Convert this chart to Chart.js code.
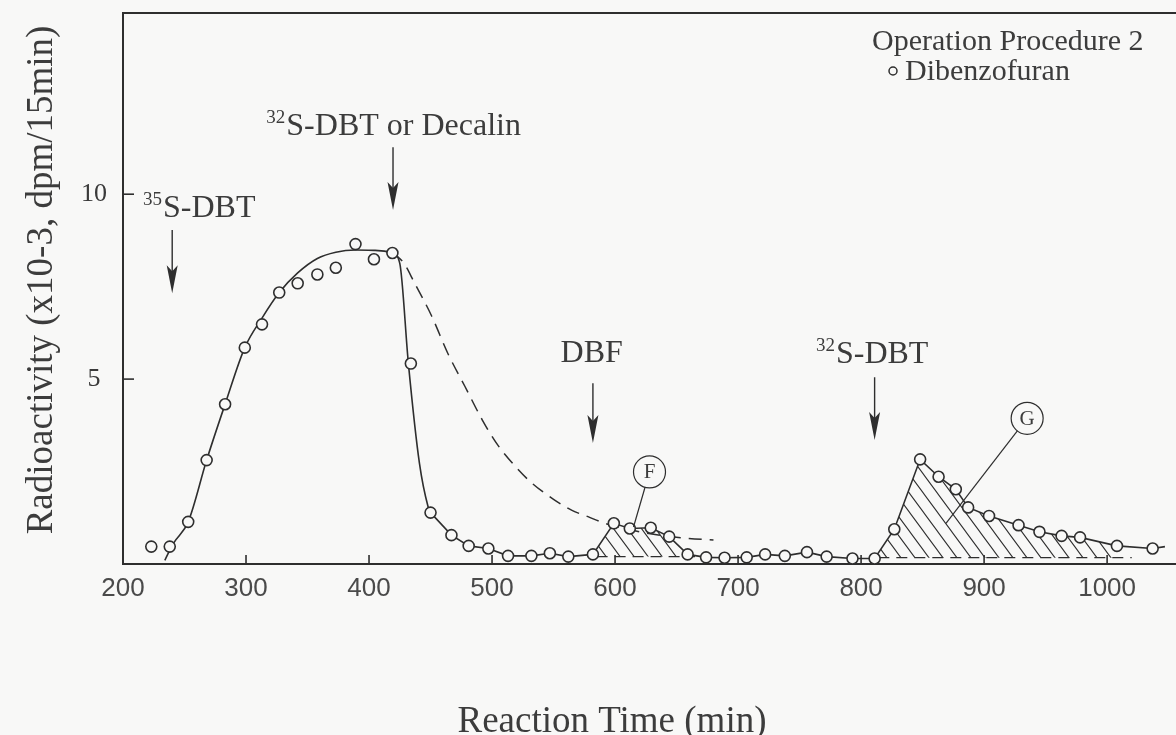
<!DOCTYPE html>
<html>
<head>
<meta charset="utf-8">
<script src="https://cdn.jsdelivr.net/npm/chart.js@4.4.1/dist/chart.umd.min.js"></script>
<style>
  html, body { margin: 0; padding: 0; background: #f8f8f7; }
  #wrap { width: 1176px; height: 735px; }
</style>
</head>
<body>
<div id="wrap"><canvas id="chart" width="1176" height="735"></canvas></div>
<script>
// measured points, Dibenzofuran (operation procedure 2)
const timeMin = [223, 238, 253, 268, 283, 299, 313, 327, 342, 358, 373, 389, 404, 419, 434, 450,
  467, 481, 497, 513, 532, 547, 562, 582, 599, 612, 629, 644, 659, 674, 689, 707, 722, 738,
  756, 772, 793, 811, 827, 848, 863, 877, 887, 904, 928, 945, 963, 978, 1008, 1037];
const activity = [0.47, 0.47, 1.14, 2.81, 4.32, 5.85, 6.48, 7.34, 7.59, 7.83, 8.01, 8.65, 8.24, 8.41, 5.42, 1.39,
  0.78, 0.49, 0.42, 0.22, 0.22, 0.29, 0.20, 0.26, 1.10, 0.96, 0.98, 0.74, 0.26, 0.18, 0.17, 0.18, 0.26, 0.22,
  0.32, 0.20, 0.15, 0.15, 0.94, 2.83, 2.36, 2.02, 1.53, 1.30, 1.05, 0.87, 0.76, 0.72, 0.49, 0.42];

// smooth solid curve over the first peak
const fitTime = [234, 241, 253, 268, 283, 299, 313, 327, 342, 358, 373, 389, 405, 419, 425, 432, 441, 448, 450];
const fitValue = [0.1, 0.56, 1.14, 2.81, 4.32, 5.85, 6.65, 7.34, 7.87, 8.26, 8.43, 8.49, 8.48, 8.42, 8.13, 5.42, 2.72, 1.55, 1.39];

// the solid trace runs on a little past the last point
const tailTime = [1047];
const tailValue = [0.47];

// dashed curve
const dashTime = [419, 428, 437, 451, 464, 478, 492, 505, 520, 532, 550, 565, 578, 590, 600, 620, 640, 660, 680];
const dashValue = [8.42, 8.15, 7.6, 6.7, 5.7, 4.8, 3.9, 3.2, 2.6, 2.2, 1.75, 1.45, 1.28, 1.12, 1.02, 0.87, 0.76, 0.69, 0.65];

// hatched areas F and G: time range and baseline
const hatchFrom = [582, 811];
const hatchTo = [659, 1008];
const hatchBase = [0.2, 0.17];
const hatchBaseTo = [665, 1020];

// arrows and their labels
const arrowTime = [240, 419.5, 582, 811];
const arrowTop = [9.03, 11.27, 4.89, 5.05];
const arrowTip = [7.32, 9.57, 3.27, 3.35];
const labelSup = ['35', '32', '', '32'];
const labelText = ['S-DBT', 'S-DBT or Decalin', 'DBF', 'S-DBT'];
const labelTime = [262, 420, 581, 809];
const labelValue = [9.38, 11.6, 5.46, 5.43];

// circled letters with leader lines
const tagText = ['F', 'G'];
const tagTime = [628, 935];
const tagValue = [2.49, 3.94];
const leaderTime = [615, 869];
const leaderValue = [1.0, 1.1];

const xTickValues = [300, 400, 500, 600, 700, 800, 900, 1000];
const yTickValues = [5, 10];

const ink = '#2e2e2e';
const textInk = '#3c3c3c';
const paper = '#f8f8f7';
const serif = '"Liberation Serif", "Times New Roman", serif';

const pts = (xs, ys) => xs.map((t, i) => ({ x: t, y: ys[i] }));
const allPoints = pts(timeMin, activity);
const tracePoints = allPoints.filter(p => p.x >= 450).concat(pts(tailTime, tailValue));

function hatchPattern() {
  const c = document.createElement('canvas');
  c.width = 14; c.height = 19;
  const g = c.getContext('2d');
  g.strokeStyle = ink;
  g.lineWidth = 1.1;
  g.beginPath();
  g.moveTo(0, 0); g.lineTo(14, 19);
  g.moveTo(-2, 16.3); g.lineTo(2, 21.7);
  g.moveTo(12, -2.7); g.lineTo(16, 2.7);
  g.stroke();
  return g.createPattern(c, 'repeat');
}
const hatch = hatchPattern();

const datasets = [
  {
    label: 'Dibenzofuran', data: allPoints, order: 0, showLine: false,
    pointRadius: 5.5, pointBorderWidth: 1.6, pointBorderColor: ink, pointBackgroundColor: paper
  },
  {
    label: 'fit', data: pts(fitTime, fitValue), order: 1, borderColor: ink, borderWidth: 1.6,
    pointRadius: 0, cubicInterpolationMode: 'monotone'
  },
  {
    label: 'trace', data: tracePoints, order: 1, borderColor: ink, borderWidth: 1.6,
    pointRadius: 0, tension: 0
  },
  {
    label: 'dashed', data: pts(dashTime, dashValue), order: 1, borderColor: ink, borderWidth: 1.5,
    borderDash: [13, 8], pointRadius: 0, cubicInterpolationMode: 'monotone'
  }
];

hatchFrom.forEach((from, i) => {
  datasets.push({
    label: 'hatch' + i, data: allPoints.filter(p => p.x >= from && p.x <= hatchTo[i]),
    order: 2, borderWidth: 0, pointRadius: 0, backgroundColor: hatch,
    fill: { value: hatchBase[i] }, tension: 0
  });
  datasets.push({
    label: 'base' + i, data: [{ x: from + 3, y: hatchBase[i] }, { x: hatchBaseTo[i], y: hatchBase[i] }],
    order: 1, borderColor: ink, borderWidth: 1.2, borderDash: [11, 7], pointRadius: 0
  });
});

function supLabel(ctx, sup, text, cx, by, size) {
  ctx.font = size + 'px ' + serif;
  const mw = ctx.measureText(text).width;
  ctx.font = Math.round(size * 0.6) + 'px ' + serif;
  const sw = sup ? ctx.measureText(sup).width + 1 : 0;
  const x0 = cx - (mw + sw) / 2;
  if (sup) ctx.fillText(sup, x0, by - size * 0.38);
  ctx.font = size + 'px ' + serif;
  ctx.fillText(text, x0 + sw, by);
}

const overlay = {
  id: 'overlay',
  afterDraw(chart) {
    const { ctx, chartArea: a, scales: { x, y } } = chart;
    ctx.save();
    ctx.strokeStyle = ink;
    ctx.fillStyle = textInk;
    ctx.textBaseline = 'alphabetic';

    // top frame line
    ctx.lineWidth = 2;
    ctx.beginPath();
    ctx.moveTo(a.left, a.top);
    ctx.lineTo(a.right, a.top);
    ctx.stroke();

    // ticks pointing inward
    ctx.lineWidth = 1.6;
    xTickValues.forEach(v => {
      const px = x.getPixelForValue(v);
      ctx.beginPath(); ctx.moveTo(px, a.bottom); ctx.lineTo(px, a.bottom - 9); ctx.stroke();
    });
    yTickValues.forEach(v => {
      const py = y.getPixelForValue(v);
      ctx.beginPath(); ctx.moveTo(a.left, py); ctx.lineTo(a.left + 11, py); ctx.stroke();
    });

    // axis titles
    ctx.font = '37px ' + serif;
    ctx.textAlign = 'center';
    ctx.fillText('Reaction Time (min)', a.left + 489, a.bottom + 168);
    ctx.save();
    ctx.translate(a.left - 71, a.top + 267);
    ctx.rotate(-Math.PI / 2);
    ctx.fillText('Radioactivity (x10-3, dpm/15min)', 0, 0);
    ctx.restore();
    ctx.textAlign = 'left';

    // arrows
    arrowTime.forEach((t, i) => {
      const px = x.getPixelForValue(t);
      const y0 = y.getPixelForValue(arrowTop[i]);
      const y1 = y.getPixelForValue(arrowTip[i]);
      ctx.fillStyle = ink;
      ctx.lineWidth = 1.4;
      ctx.beginPath(); ctx.moveTo(px, y0); ctx.lineTo(px, y1 - 20); ctx.stroke();
      ctx.beginPath();
      ctx.moveTo(px, y1); ctx.lineTo(px - 5.5, y1 - 28); ctx.lineTo(px, y1 - 22); ctx.lineTo(px + 5.5, y1 - 28);
      ctx.closePath(); ctx.fill();
      ctx.fillStyle = textInk;
      supLabel(ctx, labelSup[i], labelText[i], x.getPixelForValue(labelTime[i]), y.getPixelForValue(labelValue[i]), 32);
    });

    // circled tags
    tagText.forEach((s, i) => {
      const cx = x.getPixelForValue(tagTime[i]);
      const cy = y.getPixelForValue(tagValue[i]);
      const lx = x.getPixelForValue(leaderTime[i]);
      const ly = y.getPixelForValue(leaderValue[i]);
      const r = 16;
      const d = Math.hypot(cx - lx, cy - ly);
      ctx.lineWidth = 1.2;
      ctx.beginPath(); ctx.arc(cx, cy, r, 0, Math.PI * 2); ctx.stroke();
      ctx.beginPath();
      ctx.moveTo(cx + (lx - cx) * r / d, cy + (ly - cy) * r / d);
      ctx.lineTo(lx, ly);
      ctx.stroke();
      ctx.font = '21px ' + serif;
      ctx.textAlign = 'center';
      ctx.textBaseline = 'middle';
      ctx.fillText(s, cx, cy + 1);
      ctx.textAlign = 'left';
      ctx.textBaseline = 'alphabetic';
    });

    // legend
    const lx = a.right - 304;
    ctx.font = '30px ' + serif;
    ctx.fillText('Operation Procedure 2', lx, a.top + 37);
    ctx.fillText('Dibenzofuran', lx + 33, a.top + 67);
    ctx.lineWidth = 1.5;
    ctx.beginPath(); ctx.arc(lx + 21, a.top + 58, 4, 0, Math.PI * 2); ctx.stroke();
    ctx.restore();
  }
};

new Chart(document.getElementById('chart'), {
  type: 'line',
  data: { datasets },
  options: {
    responsive: false,
    animation: false,
    layout: { autoPadding: false, padding: { top: 13, right: 0, left: 0, bottom: 0 } },
    plugins: { legend: { display: false }, tooltip: { enabled: false } },
    scales: {
      x: {
        type: 'linear', min: 200, max: 1056,
        afterFit: s => { s.height = 171; s.paddingLeft = 0; s.paddingRight = 0; },
        grid: { display: false, drawTicks: false },
        border: { display: true, color: ink, width: 2 },
        ticks: {
          stepSize: 100, padding: 9, color: '#4a4a4a', includeBounds: false,
          font: { family: '"Liberation Sans", Arial, sans-serif', size: 26 },
          callback: v => (v % 100 === 0 && v <= 1000 ? v : '')
        }
      },
      y: {
        min: 0, max: 14.9,
        afterFit: s => { s.width = 123; s.paddingTop = 0; s.paddingBottom = 0; },
        grid: { display: false, drawTicks: false },
        border: { display: true, color: ink, width: 2 },
        ticks: {
          stepSize: 5, padding: 16, color: '#3a3a3a', crossAlign: 'center', includeBounds: false,
          font: { family: serif, size: 26 },
          callback: v => (v === 5 || v === 10 ? v : '')
        }
      }
    }
  },
  plugins: [overlay]
});
</script>
</body>
</html>
